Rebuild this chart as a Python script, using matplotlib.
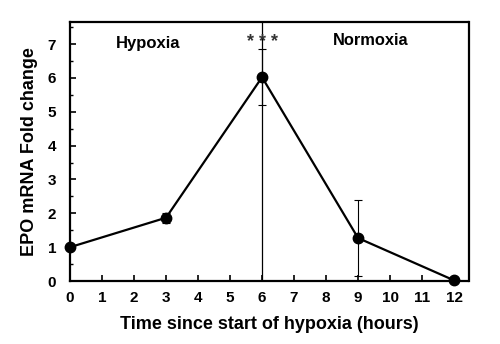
import matplotlib.pyplot as plt
from matplotlib.ticker import MultipleLocator

plt.rcParams['font.family'] = ['Liberation Sans', 'DejaVu Sans']
plt.rcParams['font.weight'] = 'bold'

hours = [0, 3, 6, 9, 12]
fold_change = [1.0, 1.87, 6.02, 1.27, 0.02]
errors = [0.0, 0.15, 0.83, 1.13, 0.0]

fig = plt.figure(figsize=(5, 3.44), dpi=100)
ax = fig.add_axes([0.14, 0.183, 0.797, 0.753])

ax.errorbar(hours, fold_change, yerr=errors, color='black', lw=1.6,
            marker='o', markersize=7.5, ecolor='black', elinewidth=0.8,
            capsize=3, capthick=0.8, clip_on=False, zorder=3)
ax.axvline(6, color='black', lw=0.9)

ax.text(2.45, 7.02, 'Hypoxia', ha='center', va='center', fontsize=12, fontweight='bold')
ax.text(9.4, 7.1, 'Normoxia', ha='center', va='center', fontsize=11.8, fontweight='bold')
ax.text(6, 7.05, '* * *', ha='center', va='center', fontsize=13, color='#333333')

ax.set_xlim(0, 12.45)
ax.set_ylim(0, 7.65)
ax.set_xticks(range(0, 13))
ax.set_yticks(range(0, 8))
ax.yaxis.set_minor_locator(MultipleLocator(0.5))
ax.tick_params(direction='in', length=4, width=1.2, labelsize=11)
ax.tick_params(axis='x', pad=7)
ax.tick_params(axis='y', pad=10)
ax.tick_params(which='minor', direction='in', length=2.5, width=1)
for s in ax.spines.values():
    s.set_linewidth(1.6)

ax.set_xlabel('Time since start of hypoxia (hours)', fontsize=13, fontweight='bold', labelpad=8)
ax.set_ylabel('EPO mRNA Fold change', fontsize=13, fontweight='bold', labelpad=7)

plt.savefig('out.png', dpi=100)
